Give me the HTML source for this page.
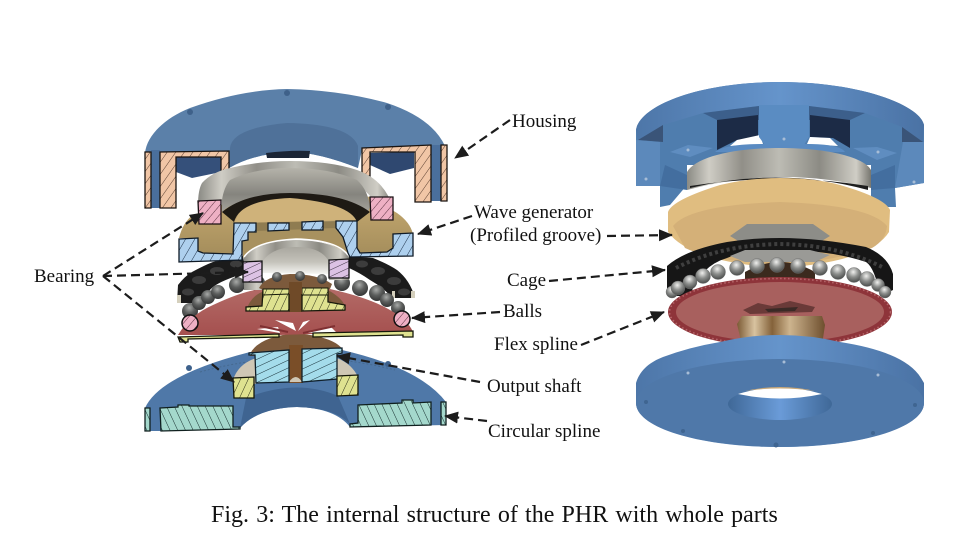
<!DOCTYPE html>
<html><head><meta charset="utf-8">
<style>html,body{margin:0;padding:0;background:#fff;width:971px;height:557px;overflow:hidden}svg{display:block}
text{font-family:"Liberation Serif",serif;fill:#111}</style></head>
<body>
<svg width="971" height="557" viewBox="0 0 971 557" xmlns="http://www.w3.org/2000/svg">
<defs>
<pattern id="hO" width="7" height="7" patternUnits="userSpaceOnUse" patternTransform="rotate(35)"><rect width="7" height="7" fill="#f1c6a6"/><line x1="0" y1="0" x2="0" y2="7" stroke="#5a3f30" stroke-width="1"/></pattern>
<pattern id="hP" width="6" height="6" patternUnits="userSpaceOnUse" patternTransform="rotate(40)"><rect width="6" height="6" fill="#eeb0c4"/><line x1="0" y1="0" x2="0" y2="6" stroke="#5a3040" stroke-width="1"/></pattern>
<pattern id="hB" width="8" height="8" patternUnits="userSpaceOnUse" patternTransform="rotate(30)"><rect width="8" height="8" fill="#aed0ee"/><line x1="0" y1="0" x2="0" y2="8" stroke="#1c3048" stroke-width="1"/></pattern>
<pattern id="hV" width="6" height="6" patternUnits="userSpaceOnUse" patternTransform="rotate(65)"><rect width="6" height="6" fill="#dcc2e4"/><line x1="0" y1="0" x2="0" y2="6" stroke="#3c3040" stroke-width="1"/></pattern>
<pattern id="hY" width="7" height="7" patternUnits="userSpaceOnUse" patternTransform="rotate(25)"><rect width="7" height="7" fill="#dfe290"/><line x1="0" y1="0" x2="0" y2="7" stroke="#2c3018" stroke-width="1"/></pattern>
<pattern id="hC" width="7" height="7" patternUnits="userSpaceOnUse" patternTransform="rotate(65)"><rect width="7" height="7" fill="#a4dceb"/><line x1="0" y1="0" x2="0" y2="7" stroke="#183038" stroke-width="1"/></pattern>
<pattern id="hT" width="7" height="7" patternUnits="userSpaceOnUse" patternTransform="rotate(-25)"><rect width="7" height="7" fill="#a4d8cc"/><line x1="0" y1="0" x2="0" y2="7" stroke="#183030" stroke-width="1"/></pattern>
<linearGradient id="silv" x1="0" y1="0" x2="1" y2="0"><stop offset="0" stop-color="#8a8a84"/><stop offset=".12" stop-color="#cfcdc5"/><stop offset=".3" stop-color="#918f88"/><stop offset=".5" stop-color="#bdbcb4"/><stop offset=".72" stop-color="#8c8b84"/><stop offset=".92" stop-color="#cfcdc5"/><stop offset="1" stop-color="#77766f"/></linearGradient>
<linearGradient id="silvV" x1="0" y1="0" x2="0" y2="1"><stop offset="0" stop-color="#b5b3aa"/><stop offset=".6" stop-color="#85847e"/><stop offset="1" stop-color="#a5a39b"/></linearGradient>
<linearGradient id="silvW" x1="0" y1="0" x2="0" y2="1"><stop offset="0" stop-color="#a9a79f"/><stop offset=".55" stop-color="#c4c2ba"/><stop offset="1" stop-color="#f5f5f2"/></linearGradient>
<linearGradient id="blueH" x1="0" y1="0" x2="1" y2="0"><stop offset="0" stop-color="#4d76a8"/><stop offset=".5" stop-color="#6594cb"/><stop offset="1" stop-color="#4a72a4"/></linearGradient>
<linearGradient id="hole" x1="0" y1="0" x2="1" y2="0"><stop offset="0" stop-color="#3f6897"/><stop offset=".5" stop-color="#6a9bd8"/><stop offset="1" stop-color="#3f6897"/></linearGradient>
<linearGradient id="redV" x1="0" y1="0" x2="0" y2="1"><stop offset="0" stop-color="#b36a66"/><stop offset="1" stop-color="#a5504f"/></linearGradient>
<linearGradient id="tanV" x1="0" y1="0" x2="0" y2="1"><stop offset="0" stop-color="#c9ac72"/><stop offset="1" stop-color="#a58e5c"/></linearGradient>
<linearGradient id="brass" x1="0" y1="0" x2="1" y2="0"><stop offset="0" stop-color="#7b5a35"/><stop offset=".2" stop-color="#d8c3a0"/><stop offset=".4" stop-color="#84623a"/><stop offset=".6" stop-color="#cdb48e"/><stop offset="1" stop-color="#6e4f2e"/></linearGradient>
<radialGradient id="ball" cx=".45" cy=".3" r=".7"><stop offset="0" stop-color="#f0f0ee"/><stop offset=".5" stop-color="#8c8e8c"/><stop offset="1" stop-color="#4a4c4b"/></radialGradient>
<radialGradient id="ballD" cx=".45" cy=".3" r=".7"><stop offset="0" stop-color="#a8aaa8"/><stop offset=".5" stop-color="#5c5e5d"/><stop offset="1" stop-color="#343535"/></radialGradient>
<marker id="ar" markerWidth="15" markerHeight="13" refX="13" refY="6" orient="auto" markerUnits="userSpaceOnUse"><path d="M0,0 L14,6 L0,12 Z" fill="#1c1c1c"/></marker>
</defs>

<!-- LEFT: bottom blue (circular spline) -->
<path d="M145,408 Q160,375 250,352 L342,350 Q420,368 446,402 L446,425 L350,427 Q335,408 297,407 Q258,408 240,428 L160,431 L145,431 Z" fill="#4f78a8"/>
<path d="M240,428 Q258,408 297,407 Q335,408 350,424 L338,396 Q297,378 246,398 Z" fill="#3f6491"/>
<path d="M200,372 Q297,345 395,370" fill="none" stroke="#46698f" stroke-width="1" stroke-dasharray="2 2"/>
<circle cx="189" cy="368" r="3" fill="#3e618c"/><circle cx="388" cy="364" r="3" fill="#3e618c"/>

<!-- output inner beige -->
<path d="M233,380 Q238,364 256,358 L256,384 L233,384 Z M337,358 Q352,364 358,377 L337,378 Z" fill="#cfc7b5"/>
<path d="M250,354 Q258,337 296,333 Q335,337 343,350 L340,354 L250,356 Z" fill="#7c5a3c"/>
<rect x="289" y="345" width="14" height="38" fill="#7a4e28"/>
<path d="M289,382 Q296,372 302,382 Z" fill="#cfc7b5"/>

<!-- teal sections -->
<path d="M145,408 L150,408 L150,431 L145,431 Z M441,402 L446,402 L446,425 L441,425 Z" fill="url(#hT)" stroke="#10201f" stroke-width="1.3"/>
<path d="M160,408 L178,407 L178,405 L189,405 L189,406 L233,406 L233,427 L240,427 L240,429 L161,431 Z" fill="url(#hT)" stroke="#10201f" stroke-width="1.3"/>
<path d="M358,405 L402,403 L402,400 L413,400 L413,403 L431,402 L431,425 L350,427 L350,424 L358,423 Z" fill="url(#hT)" stroke="#10201f" stroke-width="1.3"/>

<!-- output blue + yellow -->
<path d="M249,353 L289,350 L289,382 L256,383 L255,355 L249,355 Z M302,349 L342,348 L342,353 L337,354 L337,379 L302,382 Z" fill="url(#hC)" stroke="#10202a" stroke-width="1.3"/>
<path d="M233,378 L254,377 L254,398 L234,398 Z M337,376 L358,375 L358,395 L337,396 Z" fill="url(#hY)" stroke="#15180a" stroke-width="1.3"/>

<!-- Cage left -->
<path d="M177,303 L178,285 Q185,276 192,272 Q205,265 213,262 L243,256 L246,273 Q222,280 213,287 Q205,294 200,303 Z" fill="#1b1b1b"/>
<path d="M349,256 L373,258 Q388,264 397,270 Q410,280 415,298 L392,298 Q384,288 370,280 Q360,273 349,268 Z" fill="#1b1b1b"/>
<g fill="#3c3c3c"><ellipse cx="188" cy="292" rx="6" ry="3.5"/><ellipse cx="199" cy="280" rx="7" ry="4"/><ellipse cx="217" cy="271" rx="7" ry="4"/><ellipse cx="236" cy="264" rx="6" ry="3.5"/><ellipse cx="362" cy="264" rx="6" ry="3.5"/><ellipse cx="378" cy="271" rx="7" ry="4"/><ellipse cx="394" cy="281" rx="7" ry="4"/><ellipse cx="404" cy="292" rx="6" ry="3.5"/></g>
<path d="M177,303 L181,303 L181,295 L177,295Z M199,303 L202,303 L202,296 L199,296Z M392,298 L395,298 L395,291 L392,291Z M411,298 L415,298 L415,291 L411,291Z" fill="#d5d0bd"/>

<!-- Balls left -->
<g fill="url(#ballD)">
<circle cx="190" cy="311" r="8"/><circle cx="199" cy="303" r="7"/><circle cx="208" cy="297" r="7"/><circle cx="218" cy="292" r="7"/><circle cx="237" cy="285" r="8"/><circle cx="257" cy="283" r="8"/><circle cx="342" cy="283" r="8"/><circle cx="360" cy="288" r="8"/><circle cx="377" cy="293" r="8"/><circle cx="387" cy="300" r="7"/><circle cx="398" cy="308" r="7"/>
</g>

<!-- Red disc dome -->
<path d="M178,335 Q190,315 213,305 Q245,290 263,289 L330,289 Q370,298 390,310 Q408,320 413,332 L313,334 L279,335 Z" fill="url(#redV)"/>
<path d="M246,311 Q250,297 262,292 Q270,276 295,274 Q322,276 328,290 Q342,298 345,306 L345,311 Z" fill="#7c5a3c"/>
<rect x="289" y="282" width="13" height="30" fill="#6f4a28"/>
<path d="M257,329 L278,327 L280,333 Z M307,333 L330,326 L336,332 Z M275,320 L293,323 L296,331 Z M310,320 L298,331 L303,322 Z" fill="#fff"/>
<path d="M260,326 L288,332 M335,326 L303,333" stroke="#7f3032" stroke-width="2"/>
<path d="M246,311 L246,307 L262,306 L263,290 L289,289 L289,311 Z M302,288 L328,288 L328,302 L345,305 L345,310 L302,311 Z" fill="url(#hY)" stroke="#15180a" stroke-width="1.3"/>
<path d="M178,337 L279,334 L279,337 L188,339 L188,342 L180,342 Z M313,333 L413,331 L413,337 L403,337 L403,335 L313,337 Z" fill="#dfe290" stroke="#15180a" stroke-width="1.3"/>
<circle cx="190" cy="323" r="8" fill="url(#hP)" stroke="#111" stroke-width="1.5"/>
<circle cx="402" cy="319" r="8" fill="url(#hP)" stroke="#111" stroke-width="1.5"/>

<!-- Lower bearing region -->
<path d="M244,290 L244,257 Q255,241 296,240 Q337,241 349,257 L349,280 L329,280 L329,272 L262,273 L262,290 Z" fill="url(#silv)"/>
<path d="M262,273 L262,262 Q272,247 296,247 Q322,247 329,262 L329,274 Z" fill="url(#silvW)"/>
<path d="M259,288 Q265,276 290,274 Q318,274 332,284 L330,289 L263,290 Z" fill="#7c5a3c"/>
<g fill="url(#ballD)"><circle cx="277" cy="277" r="5"/><circle cx="300" cy="276" r="5"/><circle cx="322" cy="279" r="5"/></g>
<path d="M263,289 L289,289 L289,294 L263,295 Z M302,288 L328,288 L328,295 L302,295Z" fill="url(#hY)" stroke="#15180a" stroke-width="1"/>
<rect x="289" y="282" width="13" height="12" fill="#6f4a28"/>
<path d="M243,262 L262,261 L262,282 L243,282 Z M329,260 L349,259 L349,278 L329,278 Z" fill="url(#hV)" stroke="#111" stroke-width="1.3"/>

<!-- Housing dome -->
<path d="M145,153 C147,135 165,118 190,108 Q240,90 287,89 Q340,90 387,103 Q432,118 445,146 L431,146 L362,150 L358,168 Q320,153 293,152 Q255,153 229,168 L229,152 L160,153 Z" fill="#5b80a9"/>
<path d="M230,148 Q232,128 287,123 Q350,124 358,146 L358,168 Q320,153 293,152 Q255,153 229,168 Z" fill="#4f7199"/>
<rect x="151" y="150" width="9" height="58" fill="#4a6f9c"/><rect x="431" y="145" width="10" height="56" fill="#4a6f9c"/>
<circle cx="190" cy="112" r="3" fill="#3f618a"/><circle cx="287" cy="93" r="3" fill="#3f618a"/><circle cx="388" cy="107" r="3" fill="#3f618a"/>
<path d="M266,153 Q290,150 310,151 L309,158 L267,158 Z" fill="#1b2535"/>

<!-- Housing interior -->
<path d="M176,157 L221,157 L221,172 L192,178 L176,172 Z" fill="#35507a"/>
<path d="M370,153 L414,152 L414,168 L390,174 L370,165 Z" fill="#2f4870"/>
<path d="M160,152 L229,151 L229,179 L221,179 L221,157 L176,157 L176,208 L160,208 Z M362,148 L431,145 L431,202 L415,202 L415,152 L370,152 L370,176 L362,176 Z M145,152 L151,152 L151,208 L145,208 Z M441,145 L447,145 L447,201 L441,201 Z" fill="url(#hO)" stroke="#1a1410" stroke-width="1.3"/>

<!-- Wave generator tan + top bearing -->
<path d="M179,238 Q183,222 193,215 L221,205 Q290,180 370,197 L397,213 Q410,222 413,234 L393,234 L393,248 L387,252 L360,253 L357,248 L357,221 L336,221 L302,222 L234,223 L233,254 L203,253 L198,251 L198,238 Z" fill="url(#tanV)"/>
<path d="M234,223 L336,221 L343,237 L248,240 L256,223Z" fill="#8f7c51"/>
<path d="M242,241 L248,232 L256,231 L336,228 L343,237 L348,255 Q332,240 296,239 Q258,240 243,258 Z" fill="#a8915f"/>
<path d="M244,257 Q255,241 296,239 Q337,240 348,255" fill="none" stroke="#fff" stroke-width="1.6"/>
<path d="M198,205 Q198,190 202,183 Q212,172 230,168 Q260,161 290,161 Q330,161 357,170 Q385,180 393,208 L371,197 Q350,172 292,169 Q235,172 221,202 Z" fill="url(#silv)"/>
<path d="M222,200 Q224,187 230,180 Q255,168 290,168 Q330,168 357,180 Q368,190 370,207 L368,212 Q350,196 290,195 Q235,198 222,212 Z" fill="url(#silvV)"/>
<path d="M234,223 L243,205 Q262,197 290,197 Q325,197 343,205 L357,220 Z" fill="#cfb27a"/>
<path d="M222,212 Q245,193 290,193 Q345,193 370,212 L357,222 Q350,203 290,198 Q240,200 234,222 Z" fill="#1e1a14"/>
<path d="M179,239 L198,238 L198,251 L203,253 L233,254 L234,223 L256,223 L256,232 L248,232 L248,240 L242,241 L242,260 L179,262 Z M336,221 L357,221 L357,248 L360,253 L387,252 L393,248 L393,234 L413,233 L413,256 L350,257 L348,253 L343,237 L336,228 Z M268,223 L289,223 L289,230 L268,231 Z M302,222 L323,221 L323,230 L302,230 Z" fill="url(#hB)" stroke="#0f1a26" stroke-width="1.3"/>
<path d="M198,201 L221,200 L221,224 L199,224 Z M370,197 L393,197 L393,220 L371,220 Z" fill="url(#hP)" stroke="#1a1014" stroke-width="1.3"/>

<!-- RIGHT view: Housing -->
<path d="M636,130 C640,105 700,82 780,82 C860,82 920,105 924,125 L924,183 L895,188 L896,207 L871,207 L871,165 L687,165 L687,185 L670,205 L660,207 L660,186 L636,186 Z" fill="#4f7dae"/>
<path d="M636,130 C640,105 700,82 780,82 C860,82 920,105 924,125 L923,143 L902,127 L865,113 L809,106 L759,106 L703,113 L663,125 L638,140 Z" fill="url(#blueH)"/>
<path d="M638,140 L663,125 L663,142 Z" fill="#3a5478"/>
<path d="M902,127 L923,142 L902,142 Z" fill="#3a5478"/>
<path d="M636,140 L660,142 L660,186 L636,186 Z M903,142 L924,142 L924,183 L895,188 Z" fill="#5c89bb"/>
<path d="M703,113 L759,106 L759,120 L717,120 Z M809,106 L865,113 L850,120 L809,120 Z" fill="#3c5f8b"/>
<path d="M717,120 L758,115 L758,137 L737,140 L717,150 Z" fill="#1c2b46"/>
<path d="M810,115 L850,120 L850,148 L833,138 L810,137 Z" fill="#1c2b46"/>
<path d="M737,140 L760,135 L763,144 L730,146 Z M807,144 L810,137 L830,138 L838,146 Z" fill="#fff"/>
<path d="M715,152 Q725,144 763,144 L806,144 Q840,144 845,152 Z" fill="#5a8bc2"/>
<path d="M759,105 L809,105 L809,137 L804,145 L765,145 L759,137 Z" fill="#5a8cc2"/>
<path d="M670,152 L688,145 L713,148 L690,157 Z M853,148 L877,147 L897,153 L877,160 Z" fill="#5f8dc0"/>
<path d="M665,165 L687,175 L687,190 L660,186 Z M871,175 L895,165 L895,188 L871,190 Z" fill="#436e9f"/>
<g fill="#a8bdd6"><circle cx="688" cy="150" r="1.5"/><circle cx="784" cy="139" r="1.5"/><circle cx="878" cy="152" r="1.5"/><circle cx="646" cy="179" r="1.5"/><circle cx="914" cy="182" r="1.5"/></g>

<!-- silver ring -->
<path d="M687,190 L687,172 C695,158 730,148 780,148 C830,148 865,158 871,170 L871,188 Q780,165 687,190 Z" fill="url(#silv)"/>
<path d="M690,188 Q780,166 868,190 L868,186 Q780,172 690,186Z" fill="#1e1e1e"/>
<!-- tan -->
<path d="M668,212 Q672,200 720,185 Q750,178 780,178 Q815,178 840,185 Q885,198 890,210 L889,232 Q870,262 780,268 Q690,262 668,232 Z" fill="#e0bd80"/>
<path d="M673,226 Q690,205 780,202 Q870,205 887,226 Q886,240 872,248 Q830,262 780,264 Q715,262 685,248 Z" fill="#d4b078"/>
<path d="M730,236 L747,224 L813,224 L830,236 L815,245 L745,245 Z" fill="#8d8d88"/>
<!-- cage -->
<path d="M667,290 L667,266 Q685,250 727,242 Q752,238 780,238 Q820,238 866,247 Q888,256 893,274 L893,290 L880,296 Q875,268 866,262 Q830,250 780,250 Q745,250 727,258 Q700,266 690,296 L670,296 Z" fill="#161616"/>
<path d="M676,268 Q720,245 780,244 Q840,245 884,268" fill="none" stroke="#3f3f3f" stroke-width="4" stroke-dasharray="3 3"/>
<path d="M730,256 L745,250 L810,250 L830,255 L815,262 L745,262 Z" fill="#9a9a96"/>
<path d="M745,272 Q780,252 815,272 L815,285 L745,285Z" fill="#3b2a1e"/>
<!-- balls -->
<g fill="url(#ball)" stroke="#6b6b6b" stroke-width=".4">
<circle cx="672" cy="292" r="6"/><circle cx="678" cy="288" r="7"/><circle cx="690" cy="282" r="7"/><circle cx="703" cy="276" r="7.5"/><circle cx="718" cy="272" r="7.5"/><circle cx="737" cy="268" r="7.5"/><circle cx="757" cy="266" r="7.5"/><circle cx="777" cy="265" r="7.5"/><circle cx="798" cy="266" r="7.5"/><circle cx="820" cy="268" r="7.5"/><circle cx="838" cy="272" r="7.5"/><circle cx="854" cy="275" r="7.5"/><circle cx="867" cy="279" r="7.5"/><circle cx="878" cy="285" r="6.5"/><circle cx="885" cy="292" r="6"/>
</g>
<!-- red disc -->
<ellipse cx="780" cy="312" rx="112" ry="35" fill="#8e343a"/>
<ellipse cx="780" cy="312" rx="110.5" ry="33.5" fill="none" stroke="#b5666a" stroke-width="1.6" stroke-dasharray="1.5 2.5"/>
<ellipse cx="780" cy="312" rx="104" ry="30" fill="#a8605e"/>
<path d="M743,310 L758,303 L772,306 L790,301 L815,307 L812,312 L750,314Z" fill="#6a3a38"/>
<path d="M765,309 L798,307 L795,311 L768,312Z" fill="#3a2a26"/>
<!-- brass -->
<path d="M737,324 L742,316 L822,316 L825,325 L822,345 L742,345Z" fill="url(#brass)"/>
<!-- bottom disk -->
<path d="M636,383 C640,370 650,362 663,357 Q690,347 720,342 Q750,335 780,335 Q810,335 840,342 Q905,352 921,378 L924,383 L924,403 C924,428 860,447 780,447 C700,447 636,428 636,403 Z" fill="url(#blueH)"/>
<ellipse cx="780" cy="403" rx="144" ry="44" fill="#4f78a9"/>
<ellipse cx="780" cy="404" rx="52" ry="16" fill="url(#hole)"/>
<path d="M738,394 Q780,381 822,394 Q780,403 738,394Z" fill="#fff"/>
<path d="M745,391 Q780,383 815,391 Q780,386 745,391Z" fill="#c9a878"/>
<g fill="#a8bdd6"><circle cx="784" cy="362" r="1.5"/><circle cx="688" cy="373" r="1.5"/><circle cx="878" cy="375" r="1.5"/></g>
<g fill="#3f6591"><circle cx="646" cy="402" r="2"/><circle cx="915" cy="405" r="2"/><circle cx="683" cy="431" r="2"/><circle cx="873" cy="433" r="2"/><circle cx="776" cy="445" r="2.5"/></g>

<!-- Arrows -->
<g fill="none" stroke="#1c1c1c" stroke-width="2.2" stroke-dasharray="9 5">
<path d="M510,120 L455,158" marker-end="url(#ar)"/>
<path d="M472,216 L418,234" marker-end="url(#ar)"/>
<path d="M103,276 L203,213" marker-end="url(#ar)"/>
<path d="M103,276 L248,272" marker-end="url(#ar)"/>
<path d="M103,276 L234,382" marker-end="url(#ar)"/>
<path d="M607,236 L672,235" marker-end="url(#ar)"/>
<path d="M549,281 L665,270" marker-end="url(#ar)"/>
<path d="M500,312 L412,318" marker-end="url(#ar)"/>
<path d="M581,345 L664,312" marker-end="url(#ar)"/>
<path d="M480,382 L337,356" marker-end="url(#ar)"/>
<path d="M487,421 L445,416" marker-end="url(#ar)"/>
</g>

<!-- Labels -->
<g font-size="19">
<text x="512" y="127">Housing</text>
<text x="474" y="218">Wave generator</text>
<text x="470" y="241">(Profiled groove)</text>
<text x="34" y="282">Bearing</text>
<text x="507" y="286">Cage</text>
<text x="503" y="317">Balls</text>
<text x="494" y="350">Flex spline</text>
<text x="487" y="392">Output shaft</text>
<text x="488" y="437">Circular spline</text>
</g>
<text x="211" y="522" font-size="24" word-spacing="1.2">Fig. 3: The internal structure of the PHR with whole parts</text>
</svg>
</body></html>
